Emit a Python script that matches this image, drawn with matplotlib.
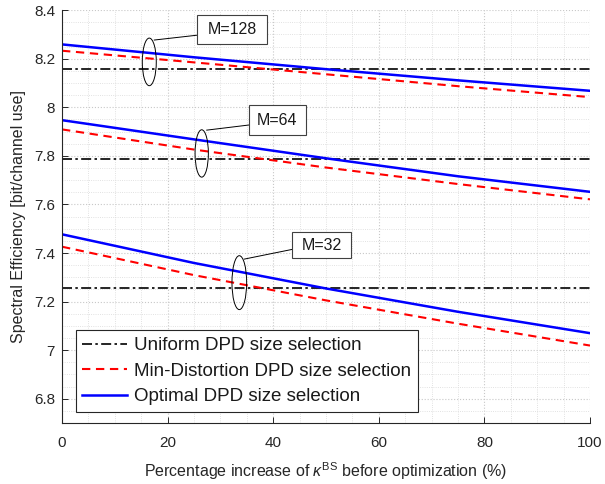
import numpy as np
import matplotlib
matplotlib.use("Agg")
from matplotlib import pyplot as plt
from matplotlib.patches import Ellipse, Rectangle
from matplotlib.ticker import MultipleLocator

plt.rcParams['font.family'] = ['Liberation Sans', 'DejaVu Sans']
plt.rcParams['mathtext.fontset'] = 'custom'
plt.rcParams['mathtext.it'] = 'Liberation Sans:italic'
plt.rcParams['mathtext.rm'] = 'Liberation Sans'

# Percentage increase of kappa^BS
pct = [0, 25, 50, 75, 100]

# Spectral efficiency per antenna count M
uniform_128 = [8.157, 8.157, 8.157, 8.157, 8.157]
mindist_128 = [8.233, 8.185, 8.136, 8.087, 8.042]
optimal_128 = [8.259, 8.206, 8.157, 8.111, 8.068]

uniform_64 = [7.788, 7.788, 7.788, 7.788, 7.788]
mindist_64 = [7.909, 7.826, 7.752, 7.684, 7.621]
optimal_64 = [7.947, 7.868, 7.790, 7.716, 7.652]

uniform_32 = [7.254, 7.254, 7.254, 7.254, 7.254]
mindist_32 = [7.426, 7.309, 7.205, 7.109, 7.019]
optimal_32 = [7.477, 7.359, 7.254, 7.158, 7.070]

labels = ['Uniform DPD size selection',
          'Min-Distortion DPD size selection',
          'Optimal DPD size selection']

# callouts: text, ellipse centre/size, leader line, box corners
callouts = [
    ('M=128', (16.53, 8.187), 2.65, 0.196, (17.48, 8.277), (25.62, 8.297), (25.62, 8.259), (38.88, 8.379)),
    ('M=64', (26.46, 7.810), 2.52, 0.195, (27.41, 7.906), (35.36, 7.927), (35.36, 7.886), (46.21, 8.009)),
    ('M=32', (33.58, 7.278), 2.78, 0.222, (34.53, 7.375), (43.62, 7.415), (43.62, 7.378), (54.68, 7.488)),
]

fig = plt.figure(figsize=(6.05, 4.84), dpi=100)
ax = fig.add_axes([0.1025, 0.126, 0.8727, 0.853])

for u, md, op in [(uniform_128, mindist_128, optimal_128),
                  (uniform_64, mindist_64, optimal_64),
                  (uniform_32, mindist_32, optimal_32)]:
    ax.plot(pct, u, color='k', linestyle='-.', linewidth=1.2, dashes=(6, 2, 1.5, 2))
    ax.plot(pct, md, color='r', linestyle='--', linewidth=1.5, dashes=(4, 2.7))
    ax.plot(pct, op, color='b', linestyle='-', linewidth=1.8)

for txt, c, w, h, p0, p1, b0, b1 in callouts:
    ax.add_patch(Ellipse(c, w, h, fill=False, edgecolor='k', linewidth=0.7, zorder=5))
    ax.plot([p0[0], p1[0]], [p0[1], p1[1]], color='k', linewidth=0.7, zorder=5)
    ax.add_patch(Rectangle(b0, b1[0] - b0[0], b1[1] - b0[1], facecolor='white',
                           edgecolor='#404040', linewidth=0.8, zorder=6))
    ax.text((b0[0] + b1[0]) / 2, (b0[1] + b1[1]) / 2, txt, ha='center', va='center',
            fontsize=11.5, color='#1a1a1a', zorder=7)

ax.set_xlim(0, 100)
ax.set_ylim(6.7, 8.4)
ax.xaxis.set_major_locator(MultipleLocator(20))
ax.xaxis.set_minor_locator(MultipleLocator(5))
ax.yaxis.set_major_locator(MultipleLocator(0.2))
ax.yaxis.set_minor_locator(MultipleLocator(0.05))
ax.set_yticks(np.arange(6.8, 8.41, 0.2))
ax.set_yticklabels(['6.8', '7', '7.2', '7.4', '7.6', '7.8', '8', '8.2', '8.4'])
ax.grid(which='major', color='#c8c8c8', linestyle=':', linewidth=0.8)
ax.grid(which='minor', color='#d8d8d8', linestyle=':', linewidth=0.6)
ax.set_axisbelow(True)

for s in ['top', 'right']:
    ax.spines[s].set_visible(False)
for s in ['left', 'bottom']:
    ax.spines[s].set_color('#262626')
    ax.spines[s].set_linewidth(0.8)
ax.tick_params(which='major', direction='in', length=4, width=0.7, colors='#262626',
               labelsize=11, pad=9)
ax.tick_params(which='minor', length=0)
ax.tick_params(axis='y', pad=5)

ax.set_xlabel(r'Percentage increase of $\kappa^{\mathrm{BS}}$ before optimization (%)',
              fontsize=11.5, color='#262626', labelpad=8)
ax.set_ylabel('Spectral Efficiency [bit/channel use]', fontsize=11.5, color='#262626',
              labelpad=6)

leg = ax.legend(ax.lines[:3], labels, loc='lower left', bbox_to_anchor=(0.026, 0.027),
                borderaxespad=0, fontsize=13.5, frameon=True, fancybox=False,
                edgecolor='#262626', framealpha=1, handlelength=2.4, handletextpad=0.35,
                labelspacing=0.45, borderpad=0.35)
leg.get_frame().set_linewidth(0.8)
for t in leg.get_texts():
    t.set_color('#1a1a1a')

fig.savefig('out.png', dpi=100)
